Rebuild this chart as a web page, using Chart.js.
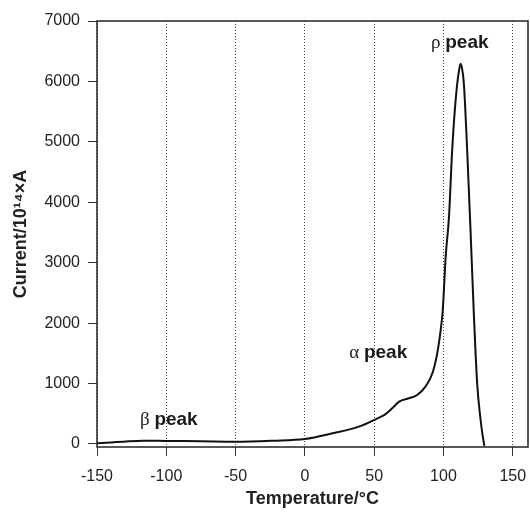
<!DOCTYPE html>
<html>
<head>
<meta charset="utf-8">
<script src="https://cdn.jsdelivr.net/npm/chart.js@4.4.1/dist/chart.umd.min.js"></script>
<style>
  body { margin: 0; background: #fff; }
  #wrap { width: 530px; height: 514px; position: relative; }
</style>
</head>
<body>
<div id="wrap"><canvas id="tscChart"></canvas></div>
<script>
// valores
const temperaturas = [-150, -140, -131, -117, -100, -75, -50, -23, 0, 20, 39, 51, 58, 63, 68, 75, 81, 87, 92, 95.5, 98, 99.5, 101.6, 104, 106.3, 108.8, 111, 112.4, 113.5, 114.7, 117.1, 119.6, 122, 124.3, 126.8, 128.2, 129.5];
const correntes = [12, 25, 38, 55, 50, 45, 38, 55, 83, 177, 287, 408, 490, 590, 700, 756, 811, 949, 1170, 1500, 1887, 2218, 3100, 3763, 4868, 5695, 6150, 6291, 6200, 5972, 4868, 3493, 2108, 1010, 397, 150, -30];
const ticksX = [-150, -100, -50, 0, 50, 100, 150];
const ticksY = [0, 1000, 2000, 3000, 4000, 5000, 6000, 7000];

// rótulos dos picos: letra grega, texto, posição (temperatura, corrente)
const picosLetra = ['β', 'α', 'ρ'];
const picosTexto = ['peak', 'peak', 'peak'];
const picosX = [-119, 32, 91];
const picosY = [397, 1507, 6639];

const pontos = temperaturas.map((t, i) => ({ x: t, y: correntes[i] }));

// moldura + rótulos
const moldura = {
    id: 'moldura',
    afterDraw(chart) {
        const { ctx, chartArea: a, scales } = chart;
        ctx.save();
        ctx.strokeStyle = '#222';
        ctx.lineWidth = 1.5;
        ctx.strokeRect(a.left, a.top, a.right - a.left, a.bottom - a.top);

        ctx.fillStyle = '#1a1a1a';
        ctx.textBaseline = 'middle';
        ctx.textAlign = 'left';
        picosLetra.forEach((letra, i) => {
            const px = scales.x.getPixelForValue(picosX[i]);
            const py = scales.y.getPixelForValue(picosY[i]);
            ctx.font = '19px "Liberation Serif", serif';
            ctx.fillText(letra, px, py);
            const w = ctx.measureText(letra + ' ').width;
            ctx.font = 'bold 19px "Liberation Sans", Arial, sans-serif';
            ctx.fillText(picosTexto[i], px + w, py);
        });
        ctx.restore();
    }
};

const ctx = document.getElementById('tscChart').getContext('2d');
new Chart(ctx, {
    type: 'scatter',
    data: {
        datasets: [{
            data: pontos,
            showLine: true,
            borderColor: '#111',
            borderWidth: 2,
            pointRadius: 0,
            cubicInterpolationMode: 'monotone',
            fill: false
        }]
    },
    options: {
        responsive: true,
        maintainAspectRatio: false,
        animation: false,
        layout: { padding: { top: 21, right: 2, left: 0, bottom: 0 } },
        plugins: { legend: { display: false }, tooltip: { enabled: false } },
        scales: {
            x: {
                type: 'linear',
                min: -150,
                max: 161,
                afterBuildTicks: s => { s.ticks = ticksX.map(v => ({ value: v })); },
                afterFit: s => { s.height = 67; s.paddingLeft = 0; s.paddingRight = 0; },
                border: { display: false, dash: [1, 2] },
                grid: {
                    color: '#444',
                    lineWidth: 1,
                    drawTicks: true,
                    tickLength: 9,
                    tickColor: '#333',
                    tickBorderDash: []
                },
                ticks: {
                    color: '#222',
                    padding: 11,
                    maxRotation: 0,
                    callback: v => String(v),
                    font: { family: '"Liberation Sans", Arial, sans-serif', size: 16 }
                },
                title: {
                    display: true,
                    text: 'Temperature/°C',
                    color: '#222',
                    padding: { top: 0, bottom: 4 },
                    font: { family: '"Liberation Sans", Arial, sans-serif', size: 18, weight: 'bold' }
                }
            },
            y: {
                min: -50,
                max: 7000,
                afterBuildTicks: s => { s.ticks = ticksY.map(v => ({ value: v })); },
                afterFit: s => { s.width = 97; s.paddingTop = 0; s.paddingBottom = 0; },
                border: { display: false },
                grid: {
                    drawOnChartArea: false,
                    drawTicks: true,
                    tickLength: 9,
                    tickColor: '#333'
                },
                ticks: {
                    color: '#222',
                    padding: 8,
                    callback: v => String(v),
                    font: { family: '"Liberation Sans", Arial, sans-serif', size: 16 }
                },
                title: {
                    display: true,
                    text: 'Current/10¹⁴×A',
                    color: '#222',
                    padding: { top: 10, bottom: 0 },
                    font: { family: '"Liberation Sans", Arial, sans-serif', size: 18, weight: 'bold' }
                }
            }
        }
    },
    plugins: [moldura]
});
</script>
</body>
</html>
